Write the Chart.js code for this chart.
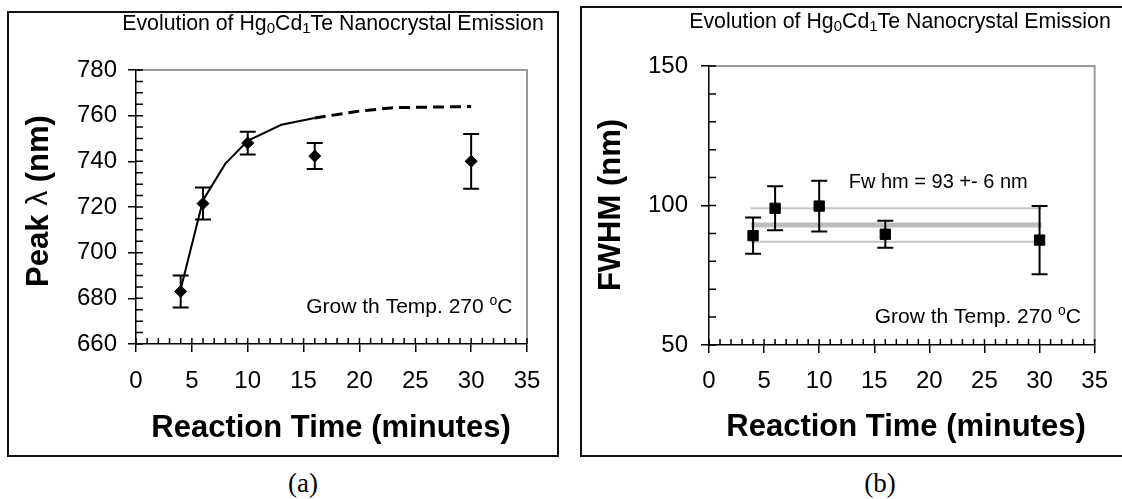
<!DOCTYPE html>
<html>
<head>
<meta charset="utf-8">
<script src="https://cdn.jsdelivr.net/npm/chart.js@4.4.1/dist/chart.umd.min.js"></script>
<style>
  body { margin: 0; background: #fff; width: 1122px; height: 499px; overflow: hidden; position: relative; }
  .frame { position: absolute; box-sizing: border-box; border: 2px solid #111; }
  #frameA { left: 7px; top: 11px; width: 552px; height: 446px; }
  #frameB { left: 580px; top: 6px; width: 600px; height: 451px; }
  canvas { position: absolute; }
  #peak-chart { left: 8px; top: 12px; }
  #fwhm-chart { left: 581px; top: 7px; }
  .caption { position: absolute; top: 468px; width: 80px; text-align: center; font: 27px 'Liberation Serif', 'Times New Roman', serif; }
</style>
</head>
<body>
<div class="frame" id="frameA"></div>
<div class="frame" id="frameB"></div>
<canvas id="peak-chart" width="550" height="444"></canvas>
<canvas id="fwhm-chart" width="541" height="449"></canvas>
<div class="caption" style="left:263px">(a)</div>
<div class="caption" style="left:840px">(b)</div>
<script>
// values
const times = [4, 6, 10, 16, 30]
const peakNm = [683, 721.5, 748, 742.3, 740]
const peakErr = [7, 7, 5, 5.7, 12]
const fitTimes = [4, 6, 8, 10, 13, 16]
const fitNm = [684, 723, 739, 749, 756, 759]
const extTimes = [16, 20, 23, 30]
const extNm = [759, 762, 763.5, 764]

const fwhmNm = [89.2, 99, 99.8, 89.7, 87.6]
const fwhmErr = [6.5, 7.9, 9.1, 4.8, 12.2]
const bandTimes = [3.8, 30.2]
const fwhmMean = [93, 93]
const fwhmHigh = [99, 99]
const fwhmLow = [87, 87]

const xTicks = [0, 5, 10, 15, 20, 25, 30, 35]
const peakTicks = [660, 680, 700, 720, 740, 760, 780]
const fwhmTicks = [50, 100, 150]

Chart.defaults.font.family = "Arial, 'Liberation Sans', sans-serif"
Chart.defaults.color = '#000'

const FONT = "Arial, 'Liberation Sans', sans-serif"
const toXY = (xs, ys) => xs.map((x, i) => ({x: x, y: ys[i]}))

// draws a line of text made of runs [text, size, dy, bold]
const drawRuns = (ctx, runs, x, y, align) => {
    let w = 0
    for (const r of runs) {
        ctx.font = (r[3] ? 'bold ' : '') + r[1] + 'px ' + FONT
        w += ctx.measureText(r[0]).width
    }
    let cx = align === 'right' ? x - w : x - w / 2
    for (const r of runs) {
        ctx.font = (r[3] ? 'bold ' : '') + r[1] + 'px ' + FONT
        ctx.fillText(r[0], cx, y + r[2])
        cx += ctx.measureText(r[0]).width
    }
}

const titleRuns = [
    ['Evolution of Hg', 21.3, 0], ['0', 15, 5], ['Cd', 21.3, 0], ['1', 15, 5],
    ['Te Nanocrystal Emission', 21.3, 0]
]
const tempRuns = [['Grow th Temp. 270 ', 21, 0], ['o', 14, -6], ['C', 21, 0]]

const decor = {
    id: 'decor',
    beforeDatasetsDraw(chart, args, opts) {
        const {ctx, chartArea: a, scales: {x, y}} = chart
        ctx.save()
        ctx.strokeStyle = '#9a9a9a'
        ctx.lineWidth = 2
        ctx.beginPath()
        ctx.moveTo(a.left, a.top)
        ctx.lineTo(a.right, a.top)
        ctx.lineTo(a.right, a.bottom)
        ctx.stroke()
        // inner tick marks
        ctx.strokeStyle = '#000'
        ctx.lineWidth = 1.5
        ctx.beginPath()
        for (let v = x.min; v <= x.max; v += 1) {
            const px = x.getPixelForValue(v)
            ctx.moveTo(px, a.bottom)
            ctx.lineTo(px, a.bottom - 6)
        }
        for (let v = y.min; v <= y.max; v += opts.yMinor) {
            const py = y.getPixelForValue(v)
            ctx.moveTo(a.left, py)
            ctx.lineTo(a.left + 7, py)
        }
        ctx.stroke()
        ctx.restore()
    },
    afterDatasetsDraw(chart, args, opts) {
        const {ctx, scales: {x, y}} = chart
        ctx.save()
        ctx.strokeStyle = '#000'
        ctx.lineWidth = 2
        ctx.beginPath()
        opts.values.forEach((v, i) => {
            const px = x.getPixelForValue(times[i])
            const top = y.getPixelForValue(v + opts.errors[i])
            const bot = y.getPixelForValue(v - opts.errors[i])
            ctx.moveTo(px, top); ctx.lineTo(px, bot)
            ctx.moveTo(px - 8, top); ctx.lineTo(px + 8, top)
            ctx.moveTo(px - 8, bot); ctx.lineTo(px + 8, bot)
        })
        ctx.stroke()
        ctx.restore()
    },
    afterDraw(chart, args, opts) {
        const {ctx, chartArea: a, scales: {x, y}} = chart
        ctx.save()
        ctx.fillStyle = '#000'
        ctx.textBaseline = 'middle'
        drawRuns(ctx, titleRuns, opts.titleX, opts.titleY)
        drawRuns(ctx, tempRuns, x.getPixelForValue(opts.temp[0]), y.getPixelForValue(opts.temp[1]), 'right')
        if (opts.note) {
            drawRuns(ctx, [[opts.note[2], 20, 0]], x.getPixelForValue(opts.note[0]), y.getPixelForValue(opts.note[1]))
        }
        drawRuns(ctx, [['Reaction Time (minutes)', 31, 0, true]], opts.xTitle[0], opts.xTitle[1])
        ctx.translate(opts.yTitle[0], opts.yTitle[1])
        ctx.rotate(-Math.PI / 2)
        drawRuns(ctx, opts.yTitle[2], 0, 0)
        ctx.restore()
    }
}

const axisX = (height, pad) => ({
    type: 'linear', min: 0, max: 35,
    afterBuildTicks: s => { s.ticks = xTicks.map(v => ({value: v})) },
    afterFit: s => { s.height = height },
    ticks: {font: {size: 24}, padding: pad, autoSkip: false, maxRotation: 0},
    grid: {drawOnChartArea: false, tickLength: 8, color: '#000', lineWidth: 1.5},
    border: {color: '#000', width: 1.5}
})
const axisY = (min, max, ticks, pad) => ({
    type: 'linear', min: min, max: max,
    afterBuildTicks: s => { s.ticks = ticks.map(v => ({value: v})) },
    afterFit: s => { s.width = 128 },
    ticks: {font: {size: 24}, padding: pad},
    grid: {drawOnChartArea: false, tickLength: 8, color: '#000', lineWidth: 1.5},
    border: {color: '#000', width: 1.5}
})

const ctx = document.getElementById('peak-chart').getContext('2d')
const peakChart = new Chart(ctx, {
    type: 'scatter',
    data: {
        datasets: [{
            label: 'Peak',
            data: toXY(times, peakNm),
            pointStyle: 'rectRot',
            pointRadius: 6,
            backgroundColor: '#000',
            borderColor: '#000',
            borderWidth: 1
        }, {
            label: 'Fit',
            data: toXY(fitTimes, fitNm),
            showLine: true,
            pointRadius: 0,
            borderColor: '#000',
            borderWidth: 2
        }, {
            label: 'Extrapolated',
            data: toXY(extTimes, extNm),
            showLine: true,
            pointRadius: 0,
            borderColor: '#000',
            borderWidth: 3,
            borderDash: [11, 6]
        }]
    },
    options: {
        responsive: false,
        animation: false,
        devicePixelRatio: 1,
        layout: {padding: {top: 58, right: 31, left: 0, bottom: 0}},
        scales: {
            x: axisX(112, 15),
            y: axisY(660, 780, peakTicks, 11)
        },
        plugins: {
            legend: {display: false},
            tooltip: {enabled: false},
            decor: {
                yMinor: 5,
                values: peakNm,
                errors: peakErr,
                titleX: 325, titleY: 12,
                temp: [33.7, 676.3],
                xTitle: [323, 416],
                yTitle: [31, 189, [['Peak ', 31, 0, true], ['\u03bb', 30, 0, false], [' (nm)', 31, 0, true]]]
            }
        }
    },
    plugins: [decor]
})

const ctx2 = document.getElementById('fwhm-chart').getContext('2d')
const fwhmChart = new Chart(ctx2, {
    type: 'scatter',
    data: {
        datasets: [{
            label: 'FWHM',
            data: toXY(times, fwhmNm),
            pointStyle: 'rect',
            pointRadius: 7.3,
            backgroundColor: '#000',
            borderColor: '#000',
            borderWidth: 1
        }, {
            label: 'Mean',
            data: toXY(bandTimes, fwhmMean),
            showLine: true,
            pointRadius: 0,
            borderColor: '#bdbdbd',
            borderWidth: 5
        }, {
            label: 'High',
            data: toXY(bandTimes, fwhmHigh),
            showLine: true,
            pointRadius: 0,
            borderColor: '#c4c4c4',
            borderWidth: 2
        }, {
            label: 'Low',
            data: toXY(bandTimes, fwhmLow),
            showLine: true,
            pointRadius: 0,
            borderColor: '#c4c4c4',
            borderWidth: 2
        }]
    },
    options: {
        responsive: false,
        animation: false,
        devicePixelRatio: 1,
        layout: {padding: {top: 59, right: 20, left: 0, bottom: 0}},
        scales: {
            x: axisX(111, 14),
            y: axisY(50, 150, fwhmTicks, 13)
        },
        plugins: {
            legend: {display: false},
            tooltip: {enabled: false},
            decor: {
                yMinor: 10,
                values: fwhmNm,
                errors: fwhmErr,
                titleX: 319, titleY: 15,
                temp: [33.75, 60.1],
                note: [20.8, 108.2, 'Fw hm = 93 +- 6 nm'],
                xTitle: [325, 420],
                yTitle: [30, 198, [['FWHM (nm)', 31, 0, true]]]
            }
        }
    },
    plugins: [decor]
})
</script>
</body>
</html>
